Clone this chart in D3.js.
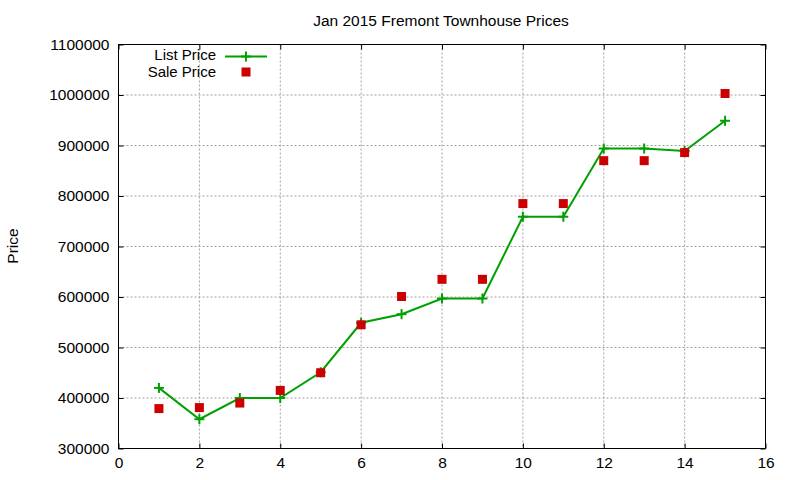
<!DOCTYPE html>
<html>
<head>
<meta charset="utf-8">
<script src="https://cdn.jsdelivr.net/npm/d3@7"></script>
<style>
  html, body { margin: 0; padding: 0; background: #fff; }
  text { font-family: "Liberation Sans", Arial, sans-serif; fill: #000; }
</style>
</head>
<body>
<svg id="chart" width="800" height="480"></svg>
<script>
const months = [1, 2, 3, 4, 5, 6, 7, 8, 9, 10, 11, 12, 13, 14, 15];
const listPrice = [420000, 358000, 400000, 400000, 451000, 549000, 566000, 597000, 597000, 759000, 759000, 894000, 894000, 889000, 949000];
const salePrice = [379000, 381000, 390000, 415000, 450000, 545000, 601000, 635000, 635000, 785000, 785000, 870000, 870000, 886000, 1003000];
const xTicks = [0, 2, 4, 6, 8, 10, 12, 14, 16];
const yTicks = [300000, 400000, 500000, 600000, 700000, 800000, 900000, 1000000, 1100000];
const titleText = "Jan 2015 Fremont Townhouse Prices";
const yLabel = "Price";
const seriesNames = ["List Price", "Sale Price"];

const svg = d3.select("#chart");
const m = { left: 118.5, right: 765.5, top: 44.5, bottom: 448.5 };
const fs = "15.5px";
const green = "#00a000";
const red = "#cc0000";

const x = d3.scaleLinear().domain([0, 16]).range([m.left, m.right]);
const y = d3.scaleLinear().domain([300000, 1100000]).range([m.bottom, m.top]);

// grid
const grid = svg.append("g");
grid.selectAll("line.gx").data(xTicks.slice(1, -1)).enter().append("line")
  .attr("x1", d => x(d)).attr("x2", d => x(d))
  .attr("y1", m.top).attr("y2", m.bottom)
  .attr("stroke", "#a0a0a0").attr("stroke-dasharray", "2,2").attr("stroke-width", 1);
grid.selectAll("line.gy").data(yTicks.slice(1, -1)).enter().append("line")
  .attr("y1", d => y(d)).attr("y2", d => y(d))
  .attr("x1", m.left).attr("x2", m.right)
  .attr("stroke", "#a0a0a0").attr("stroke-dasharray", "2,2").attr("stroke-width", 1);

// axes (inward ticks, mirrored)
const tl = 5;
const bottomAxis = d3.axisBottom(x).tickValues(xTicks).tickSize(-tl).tickPadding(10).tickFormat(d3.format("d"));
const topAxis = d3.axisTop(x).tickValues(xTicks).tickSize(-tl).tickFormat("");
const leftAxis = d3.axisLeft(y).tickValues(yTicks).tickSize(-tl).tickPadding(10).tickFormat(d3.format("d"));
const rightAxis = d3.axisRight(y).tickValues(yTicks).tickSize(-tl).tickFormat("");

const gb = svg.append("g").attr("transform", `translate(0,${m.bottom})`).call(bottomAxis);
const gt = svg.append("g").attr("transform", `translate(0,${m.top})`).call(topAxis);
const gl = svg.append("g").attr("transform", `translate(${m.left},0)`).call(leftAxis);
const gr = svg.append("g").attr("transform", `translate(${m.right},0)`).call(rightAxis);
[gb, gt, gl, gr].forEach(g => {
  g.select(".domain").remove();
  g.selectAll("line").attr("stroke", "#000");
  g.selectAll("text").style("font-size", fs).attr("font-family", "Liberation Sans, Arial, sans-serif").attr("fill", "#000");
});
gb.selectAll("text").attr("dy", "0.71em").attr("y", 8);
gl.selectAll("text").attr("x", -9);

// frame
svg.append("rect").attr("x", m.left).attr("y", m.top)
  .attr("width", m.right - m.left).attr("height", m.bottom - m.top)
  .attr("fill", "none").attr("stroke", "#000").attr("stroke-width", 1);

// list price line
const line = d3.line().x((d, i) => x(months[i])).y(d => y(d));
svg.append("path").datum(listPrice).attr("d", line)
  .attr("fill", "none").attr("stroke", green).attr("stroke-width", 2);

const ps = 5;
function plus(g, cx, cy) {
  g.append("line").attr("x1", cx - ps).attr("x2", cx + ps).attr("y1", cy).attr("y2", cy)
    .attr("stroke", green).attr("stroke-width", 2);
  g.append("line").attr("x1", cx).attr("x2", cx).attr("y1", cy - ps).attr("y2", cy + ps)
    .attr("stroke", green).attr("stroke-width", 2);
}
const pg = svg.append("g");
listPrice.forEach((v, i) => plus(pg, x(months[i]), y(v)));

// sale price squares
const sq = 9;
svg.append("g").selectAll("rect").data(salePrice).enter().append("rect")
  .attr("x", (d, i) => x(months[i]) - sq / 2)
  .attr("y", d => y(d) - sq / 2)
  .attr("width", sq).attr("height", sq)
  .attr("fill", red);

// title
svg.append("text").attr("x", 441).attr("y", 26).attr("text-anchor", "middle")
  .style("font-size", fs).text(titleText);

// y label
svg.append("text").attr("transform", "translate(18,246) rotate(-90)")
  .attr("text-anchor", "middle").style("font-size", fs).text(yLabel);

// legend
const lfs = "15px";
const lg = svg.append("g");
lg.append("text").attr("x", 216).attr("y", 54.5).attr("dy", "0.35em")
  .attr("text-anchor", "end").style("font-size", lfs).text(seriesNames[0]);
lg.append("line").attr("x1", 225).attr("x2", 267).attr("y1", 56.5).attr("y2", 56.5)
  .attr("stroke", green).attr("stroke-width", 2);
plus(lg, 246, 56.5);
lg.append("text").attr("x", 216).attr("y", 71.5).attr("dy", "0.35em")
  .attr("text-anchor", "end").style("font-size", lfs).text(seriesNames[1]);
lg.append("rect").attr("x", 246 - sq / 2).attr("y", 72 - sq / 2)
  .attr("width", sq).attr("height", sq).attr("fill", red);
</script>
</body>
</html>
